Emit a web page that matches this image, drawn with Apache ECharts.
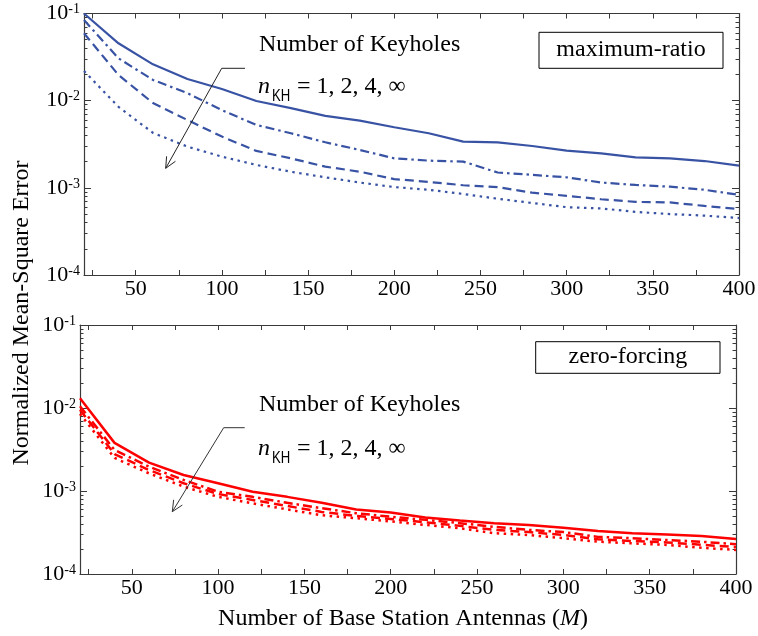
<!DOCTYPE html>
<html>
<head>
<meta charset="utf-8">
<script src="https://cdn.jsdelivr.net/npm/echarts@6/dist/echarts.min.js"></script>
<style>
html,body{margin:0;padding:0;background:#fff;}
#chart{width:758px;height:636px;}
</style>
</head>
<body>
<div id="chart"></div>
<script>
// ---- data ----
const M = [20,40,60,80,100,120,140,160,180,200,220,240,260,280,300,320,340,360,380,400];
// maximum-ratio (top panel)
const mrKH1   = [0.1,0.0455,0.0261,0.0177,0.0136,0.0099,0.0082,0.0067,0.0059,0.00496,0.00423,0.00339,0.00332,0.00302,0.00267,0.00249,0.00224,0.00218,0.00203,0.0018];
const mrKH2   = [0.084,0.0306,0.0173,0.0122,0.0078,0.00526,0.00423,0.00333,0.00272,0.00218,0.00205,0.002,0.0015,0.00141,0.00132,0.00115,0.00108,0.00103,0.00095,0.00083];
const mrKH4   = [0.0593,0.0197,0.0094,0.006,0.00387,0.00265,0.00218,0.00175,0.00153,0.00126,0.00117,0.00107,0.00102,0.00088,0.00081,0.00074,0.00069,0.00068,0.00062,0.00057];
const mrKHinf = [0.0219,0.0085,0.00427,0.00297,0.00228,0.00183,0.00153,0.00132,0.00115,0.00102,0.00095,0.00085,0.00075,0.00067,0.0006,0.00058,0.00053,0.0005,0.00048,0.00045];
// zero-forcing (bottom panel)
const zfKH1   = [0.0131,0.0038,0.0022,0.00156,0.00124,0.00098,0.00085,0.00072,0.0006,0.00055,0.00048,0.00044,0.00041,0.00039,0.00036,0.00033,0.00031,0.0003,0.000287,0.000264];
const zfKH2   = [0.0105,0.00312,0.00196,0.00136,0.00098,0.00085,0.00072,0.00062,0.00054,0.00049,0.00045,0.00041,0.00037,0.00034,0.00032,0.00028,0.00027,0.000257,0.000245,0.000228];
const zfKH4   = [0.0095,0.00279,0.00179,0.00124,0.00092,0.00078,0.00066,0.00056,0.0005,0.00046,0.00042,0.00038,0.00034,0.00032,0.000295,0.000262,0.00025,0.00024,0.000225,0.000211];
const zfKHinf = [0.0085,0.0025,0.00163,0.00113,0.00085,0.00071,0.0006,0.00051,0.00047,0.00043,0.00039,0.000356,0.00031,0.000295,0.00027,0.000245,0.000234,0.000224,0.000207,0.000195];
// ticks
const xTickLabels = [50,100,150,200,250,300,350,400];
const xTicks = [25,50,75,100,125,150,175,200,225,250,275,300,325,350,375,400];
const yDecadeExponents = [-4,-3,-2,-1];
const yMinorMultipliers = [2,3,4,5,6,7,8,9];

// ---- styling ----
const SERIF = "'Liberation Serif','Times New Roman',serif";
const SANS = "'Liberation Sans','DejaVu Sans',sans-serif";
const BLUE = '#3953a4';
const RED = '#ff0000';
const AX = '#3a3a3a';

const minorVals = [];
yDecadeExponents.slice(0, -1).forEach(e => yMinorMultipliers.forEach(k => minorVals.push(Math.log10(k) + e)));

function toLog(arr){ return M.map((m,i) => [m, Math.log10(arr[i])]); }

function xAxes(gridIndex){
  return [
    { type:'value', gridIndex, position:'bottom', min:20, max:400,
      axisLine:{show:true, lineStyle:{color:AX, width:1.2}},
      axisTick:{show:true, inside:true, length:5, customValues:xTicks, lineStyle:{color:AX}},
      axisLabel:{show:true, customValues:xTickLabels, margin:3, color:'#000', fontFamily:SERIF, fontSize:22},
      splitLine:{show:false} },
    { type:'value', gridIndex, position:'top', min:20, max:400,
      axisLine:{show:true, lineStyle:{color:AX, width:1.2}},
      axisTick:{show:true, inside:true, length:5, customValues:xTicks, lineStyle:{color:AX}},
      axisLabel:{show:false}, splitLine:{show:false} }
  ];
}
function yAxes(gridIndex){
  const base = { type:'value', gridIndex, min:-4, max:-1, interval:1, splitLine:{show:false} };
  return [
    Object.assign({}, base, { position:'left',
      axisLine:{show:true, lineStyle:{color:AX, width:1.2}},
      axisTick:{show:true, inside:true, length:7, lineStyle:{color:AX}},
      axisLabel:{show:true, margin:4, formatter: v => '{b|10}{s|' + v + '}',
        rich:{ b:{fontFamily:SERIF, fontSize:22, color:'#000', lineHeight:22, verticalAlign:'bottom', padding:[5,0,0,0]},
               s:{fontFamily:SERIF, fontSize:14, color:'#000', lineHeight:14, verticalAlign:'top'} } } }),
    Object.assign({}, base, { position:'left',
      axisLine:{show:false},
      axisTick:{show:true, inside:true, length:3.5, customValues:minorVals, lineStyle:{color:AX}},
      axisLabel:{show:false} }),
    Object.assign({}, base, { position:'right',
      axisLine:{show:true, lineStyle:{color:AX, width:1.2}},
      axisTick:{show:true, inside:true, length:7, lineStyle:{color:AX}},
      axisLabel:{show:false} }),
    Object.assign({}, base, { position:'right',
      axisLine:{show:false},
      axisTick:{show:true, inside:true, length:3.5, customValues:minorVals, lineStyle:{color:AX}},
      axisLabel:{show:false} })
  ];
}

function line(name, arr, color, dash, xi, yi, w){
  return { name, type:'line', data: toLog(arr), xAxisIndex:xi, yAxisIndex:yi,
    showSymbol:false, symbol:'none', silent:true, clip:true,
    lineStyle:{ color, width:w, type: dash, cap:'butt' } };
}

const DASHDOT = [9,4,2.5,4];
const DASHED = [9,5];
const DOTTED = [2.5,4.5];

// arrow helper (annotation only)
function arrow(hx1, hx0, hy, tx, ty, color){
  const dx = tx - hx0, dy = ty - hy, L = Math.hypot(dx, dy);
  const ux = dx / L, uy = dy / L, h = 12, a = 25 * Math.PI / 180;
  const p1 = [tx - h*(ux*Math.cos(a) - uy*Math.sin(a)), ty - h*(ux*Math.sin(a) + uy*Math.cos(a))];
  const p2 = [tx - h*(ux*Math.cos(-a) - uy*Math.sin(-a)), ty - h*(ux*Math.sin(-a) + uy*Math.cos(-a))];
  return [
    { type:'polyline', shape:{points:[[hx1,hy],[hx0,hy],[tx,ty]]}, style:{stroke:color, lineWidth:1, fill:null}, z:100 },
    { type:'polyline', shape:{points:[p1,[tx,ty],p2]}, style:{stroke:color, lineWidth:1, fill:null}, z:100 }
  ];
}
function keyholeText(yNum, yN){
  return [
    { type:'text', x:259, y:yNum, z:100, style:{ text:'Number of Keyholes', fontFamily:SERIF, fontSize:24, fill:'#000', textAlign:'left', textVerticalAlign:'middle' } },
    { type:'text', x:258, y:yN, z:100, style:{ text:'n', fontFamily:SERIF, fontStyle:'italic', fontSize:24, fill:'#000', textAlign:'left', textVerticalAlign:'middle' } },
    { type:'text', x:272, y:yN + 10, z:100, scaleX:0.82, style:{ text:'KH', fontFamily:SANS, fontSize:16, fill:'#000', textAlign:'left', textVerticalAlign:'middle' } },
    { type:'text', x:297, y:yN, z:100, style:{ text:'= 1, 2, 4, \u221E', fontFamily:SERIF, fontSize:24, fill:'#000', textAlign:'left', textVerticalAlign:'middle' } }
  ];
}
function boxLabel(x, y, w, h, text){
  return [
    { type:'rect', shape:{x, y, width:w, height:h}, style:{stroke:'#000', lineWidth:1, fill:'#fff'}, z:99 },
    { type:'text', x:x + w/2, y:y + h/2 - 1, z:100, style:{ text, fontFamily:SERIF, fontSize:24, fill:'#000', textAlign:'center', textVerticalAlign:'middle' } }
  ];
}

const chart = echarts.init(document.getElementById('chart'), null, {renderer:'canvas'});
chart.setOption({
  backgroundColor:'#fff',
  animation:false,
  grid:[
    { left:84, right:19, top:13.5, height:261.5, containLabel:false, outerBoundsMode:'none' },
    { left:80, right:22, top:325, height:249, containLabel:false, outerBoundsMode:'none' }
  ],
  xAxis: xAxes(0).concat(xAxes(1)),
  yAxis: yAxes(0).concat(yAxes(1)),
  series:[
    line('MR nKH=1', mrKH1, BLUE, 'solid', 0, 0, 2.2),
    line('MR nKH=2', mrKH2, BLUE, DASHDOT, 0, 0, 2.2),
    line('MR nKH=4', mrKH4, BLUE, DASHED, 0, 0, 2.2),
    line('MR nKH=inf', mrKHinf, BLUE, DOTTED, 0, 0, 2.2),
    line('ZF nKH=1', zfKH1, RED, 'solid', 2, 4, 2.5),
    line('ZF nKH=2', zfKH2, RED, DASHDOT, 2, 4, 2.5),
    line('ZF nKH=4', zfKH4, RED, DASHED, 2, 4, 2.5),
    line('ZF nKH=inf', zfKHinf, RED, DOTTED, 2, 4, 2.5)
  ],
  graphic:[].concat(
    keyholeText(45, 87),
    arrow(245, 221.7, 68.3, 165.7, 168.3, '#222'),
    boxLabel(539, 32.3, 184, 36, 'maximum-ratio'),
    keyholeText(405, 449),
    arrow(244.7, 223.7, 427.7, 172.3, 511.7, '#333'),
    boxLabel(535.7, 341.7, 184.3, 31.6, 'zero-forcing'),
    [
      { type:'text', x:22, y:313, rotation:Math.PI/2, z:100,
        style:{ text:'Normalized Mean-Square Error', fontFamily:SERIF, fontSize:24, fill:'#000', textAlign:'center', textVerticalAlign:'middle' } },
      { type:'text', x:403, y:619, z:100,
        style:{ text:'{a|Number of Base Station Antennas (}{m|M}{a|)}', textAlign:'center', textVerticalAlign:'middle',
          rich:{ a:{fontFamily:SERIF, fontSize:24, fill:'#000', color:'#000'}, m:{fontFamily:SERIF, fontStyle:'italic', fontSize:24, color:'#000'} } } }
    ]
  )
});
</script>
</body>
</html>
